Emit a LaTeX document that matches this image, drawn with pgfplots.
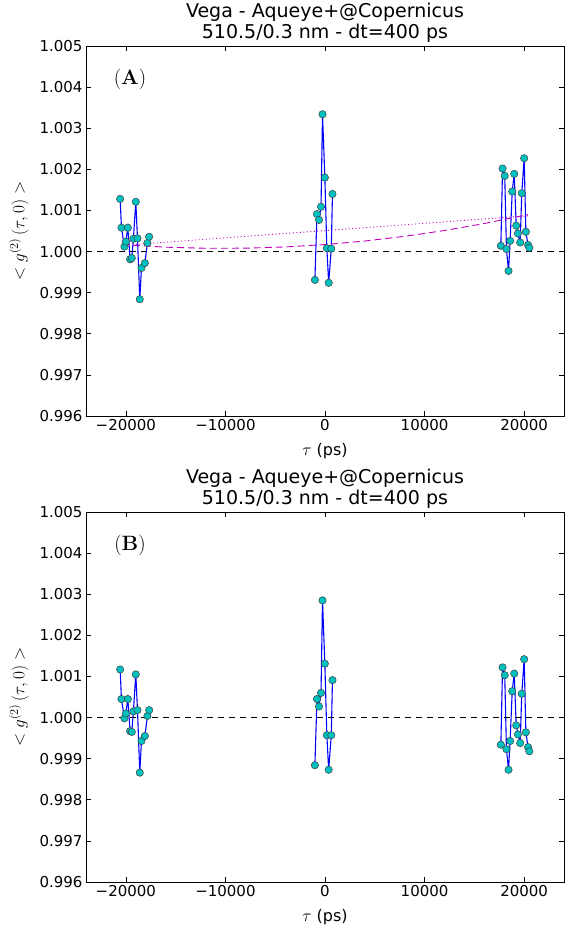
\documentclass[border=0pt]{standalone}
\usepackage[no-math]{fontspec}
\setmainfont{DejaVu Sans}
\usepackage{pgfplots}
\pgfplotsset{compat=1.18}

\definecolor{mcyan}{rgb}{0,0.75,0.75}
\definecolor{mmag}{rgb}{0.75,0,0.75}

\pgfplotsset{
  gax/.style={
    scale only axis, width=478pt, height=370pt,
    xmin=-24000, xmax=24000, ymin=0.996, ymax=1.005,
    xtick={-20000,-10000,0,10000,20000},
    xticklabels={−20000,−10000,0,10000,20000},
    ytick={0.996,0.997,0.998,0.999,1.000,1.001,1.002,1.003,1.004,1.005},
    yticklabels={0.996,0.997,0.998,0.999,1.000,1.001,1.002,1.003,1.004,1.005},
    scaled ticks=false,
    tick align=inside,
    major tick length=5pt,
    minor tick num=0,
    axis line style={line width=0.8pt},
    every tick/.style={black, line width=0.6pt},
    tick label style={font=\fontsize{15}{18}\selectfont},
    xlabel style={font=\fontsize{16}{19}\selectfont, yshift=-6pt},
    ylabel style={font=\fontsize{18}{21}\selectfont, yshift=4pt},
    title style={font=\fontsize{19}{21}\selectfont, align=center, yshift=-6pt},
    title={Vega - Aqueye+@Copernicus\\510.5/0.3 nm - dt=400 ps},
    xlabel={$\tau$ (ps)},
    ylabel={$<g^{(2)}\,(\tau,0)>$},
  },
  gdat/.style={blue, line width=1.1pt, mark=*, mark size=3.7pt,
    mark options={fill=mcyan, draw=black!75, line width=0.5pt, solid}},
  hline/.style={black, line width=0.9pt, dash pattern=on 6pt off 5pt},
}

\begin{document}
\begin{tikzpicture}
\useasboundingbox (0,0) rectangle (565pt,928pt);

% ---- panel A
\begin{axis}[gax, at={(86pt,512pt)}, anchor=south west]
\addplot[gdat] coordinates {
  (-20570,1.00128) (-20440,1.00058) (-20140,1.00012) (-20000,1.00024)
  (-19800,1.00058) (-19570,0.99981) (-19400,0.99984) (-19240,1.00031)
  (-19000,1.00121) (-18830,1.00032) (-18600,0.99884) (-18430,0.99960)
  (-18090,0.99972) (-17830,1.00021) (-17660,1.00036)
};
\addplot[gdat] coordinates {
  (-1015,0.99931) (-805,1.00091) (-600,1.00077) (-400,1.00109)
  (-250,1.00334) (-15,1.00180) (185,1.00008) (370,0.99924)
  (630,1.00007) (750,1.00140)
};
\addplot[gdat] coordinates {
  (17660,1.00014) (17830,1.00202) (18050,1.00184) (18220,1.00006)
  (18430,0.99953) (18590,1.00026) (18800,1.00146) (19000,1.00189)
  (19200,1.00063) (19370,1.00044) (19600,1.00022) (19760,1.00142)
  (20000,1.00227) (20170,1.00048) (20390,1.00016) (20520,1.00009)
};
\addplot[hline] coordinates {(-24000,1) (24000,1)};
% quadratic fit
\addplot[mmag, line width=0.9pt, dash pattern=on 7pt off 4pt] coordinates {
  (-20400,1.00017) (-16000,1.000106) (-12000,1.00008) (-8000,1.000082)
  (-4000,1.000112) (0,1.00017) (4000,1.000256) (8000,1.00037)
  (12000,1.000512) (16000,1.000682) (20400,1.00090)
};
% linear fit
\addplot[mmag, line width=0.9pt, dash pattern=on 1pt off 2.5pt] coordinates {
  (-20400,1.00015) (20400,1.00087)
};
\node[font=\fontsize{21}{24}\selectfont] at (rel axis cs:0.092,0.91) {$\mathbf{(A)}$};
\end{axis}

% ---- panel B
\begin{axis}[gax, at={(86pt,46pt)}, anchor=south west]
\addplot[gdat] coordinates {
  (-20570,1.00117) (-20440,1.00045) (-20140,0.99998) (-20000,1.00010)
  (-19800,1.00045) (-19570,0.99967) (-19400,0.99965) (-19240,1.00015)
  (-19000,1.00105) (-18830,1.00018) (-18600,0.99866) (-18430,0.99943)
  (-18090,0.99955) (-17830,1.00004) (-17660,1.00018)
};
\addplot[gdat] coordinates {
  (-1015,0.99884) (-805,1.00045) (-600,1.00027) (-400,1.00060)
  (-250,1.00285) (-15,1.00131) (185,0.99957) (370,0.99873)
  (630,0.99957) (750,1.00091)
};
\addplot[gdat] coordinates {
  (17660,0.99934) (17830,1.00122) (18050,1.00103) (18220,0.99923)
  (18430,0.99873) (18590,0.99943) (18800,1.00064) (19000,1.00107)
  (19200,0.99981) (19370,0.99959) (19600,0.99938) (19760,1.00058)
  (20000,1.00142) (20170,0.99964) (20390,0.99928) (20520,0.99918)
};
\addplot[hline] coordinates {(-24000,1) (24000,1)};
\node[font=\fontsize{21}{24}\selectfont] at (rel axis cs:0.092,0.91) {$\mathbf{(B)}$};
\end{axis}
\end{tikzpicture}
\end{document}
